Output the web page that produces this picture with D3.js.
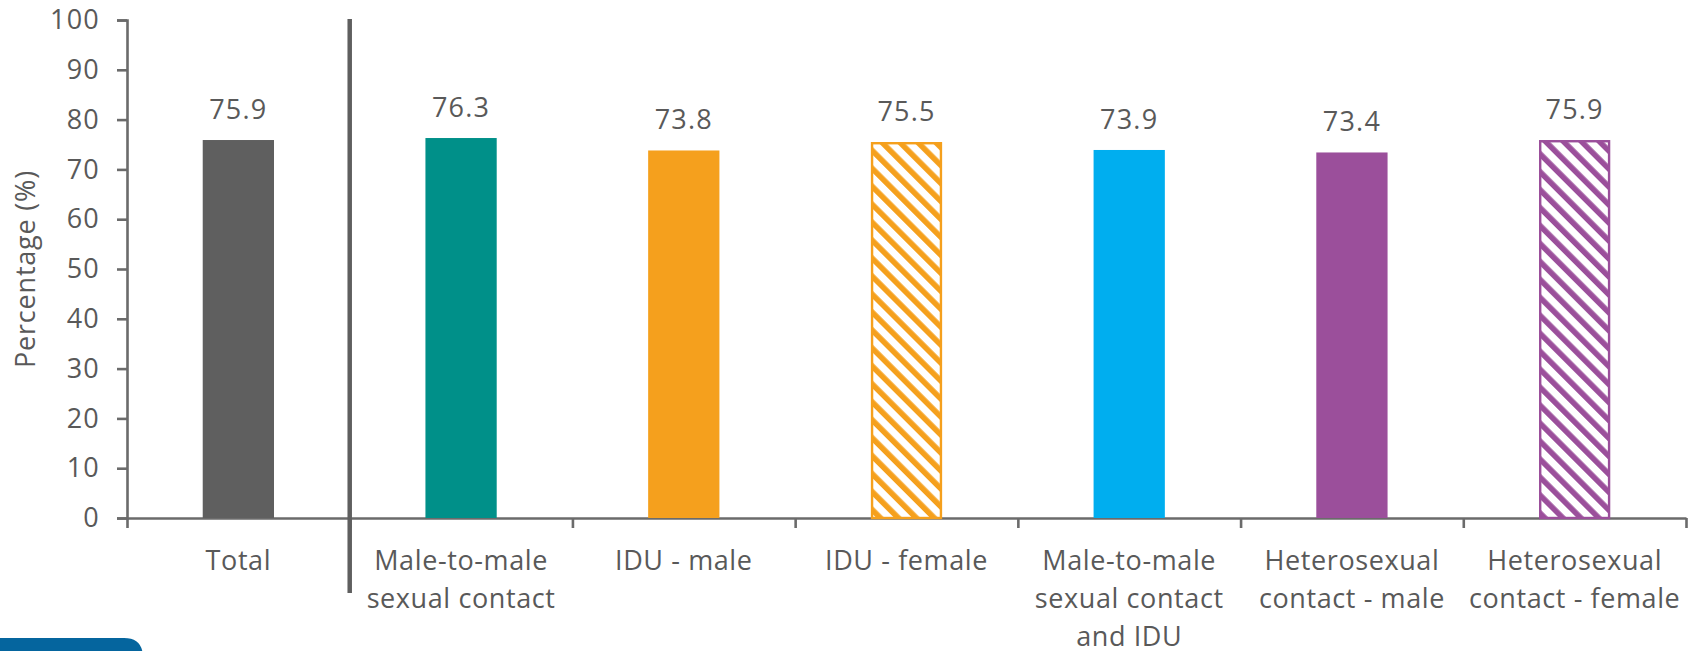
<!DOCTYPE html>
<html>
<head>
<meta charset="utf-8">
<script src="https://cdn.jsdelivr.net/npm/d3@7"></script>
<style>
  html, body { margin: 0; padding: 0; background: #fff; overflow: hidden; }
  svg { display: block; font-family: "Open Sans", sans-serif; }
</style>
</head>
<body>
<div id="canvas"></div>
<script>
// categories, split into the lines shown under each bar
const categories = ["Total", "Male-to-male sexual contact", "IDU - male", "IDU - female",
  "Male-to-male sexual contact and IDU", "Heterosexual contact - male", "Heterosexual contact - female"];
const categoryLines = [
  ["Total"],
  ["Male-to-male", "sexual contact"],
  ["IDU - male"],
  ["IDU - female"],
  ["Male-to-male", "sexual contact", "and IDU"],
  ["Heterosexual", "contact - male"],
  ["Heterosexual", "contact - female"]
];
const values = [75.9, 76.3, 73.8, 75.5, 73.9, 73.4, 75.9];
const yTicks = [0, 10, 20, 30, 40, 50, 60, 70, 80, 90, 100];

const barColors = ["#5f5f5f", "#009089", "#f5a01d", "#f5a01d", "#00aeef", "#9b4f9b", "#9b4f9b"];
const hatched = [false, false, false, true, false, false, true];

const W = 1688, H = 651;
const margin = { top: 20, right: 2, bottom: 133, left: 127 };
const height = H - margin.top - margin.bottom;
const width = W - margin.left - margin.right;

const svg = d3.select("#canvas").append("svg")
  .attr("width", W).attr("height", H);

// hatch patterns
const defs = svg.append("defs");
barColors.forEach(function (c, i) {
  if (!hatched[i]) return;
  const p = defs.append("pattern")
    .attr("id", "hatch" + i)
    .attr("patternUnits", "userSpaceOnUse")
    .attr("width", 12.7).attr("height", 12.7)
    .attr("patternTransform", "rotate(-45)");
  p.append("rect").attr("width", 12.7).attr("height", 12.7).attr("fill", "#fff");
  p.append("rect").attr("width", 5.6).attr("height", 12.7).attr("fill", c);
});

const g = svg.append("g")
  .attr("transform", "translate(" + margin.left + "," + margin.top + ")");

const x = d3.scaleBand().domain(categories).range([0, width])
  .paddingInner(0.68).paddingOuter(0.34);
const slot = d3.scaleLinear().domain([0, categories.length]).range([0, width]);
const y = d3.scaleLinear().domain([0, 100]).range([height, 0]);

const axisColor = "#6b6b6b";
const textColor = "#595959";

// y axis
const yAxis = g.append("g")
  .call(d3.axisLeft(y).tickValues(yTicks).tickSize(10).tickPadding(17).tickSizeOuter(10));
yAxis.selectAll("text").attr("font-size", 27).attr("letter-spacing", 1.2).attr("fill", textColor)
  .attr("font-family", "Open Sans");
yAxis.selectAll("line, path").attr("stroke", axisColor).attr("stroke-width", 2.6);

// x axis with ticks between categories
const xAxis = g.append("g")
  .attr("transform", "translate(0," + height + ")")
  .call(d3.axisBottom(slot).tickValues(d3.range(0, categories.length + 1))
    .tickFormat("").tickSize(10).tickSizeOuter(0));
xAxis.selectAll("line, path").attr("stroke", axisColor).attr("stroke-width", 2.6);

// bars
g.selectAll("rect.bar").data(values).enter().append("rect")
  .attr("class", "bar")
  .attr("x", function (d, i) { return x(categories[i]) + (hatched[i] ? 1.2 : 0); })
  .attr("y", function (d, i) { return y(d) + (hatched[i] ? 1.2 : 0); })
  .attr("width", function (d, i) { return x.bandwidth() - (hatched[i] ? 2.4 : 0); })
  .attr("height", function (d, i) { return height - y(d) - (hatched[i] ? 1.2 : 0); })
  .attr("fill", function (d, i) { return hatched[i] ? "url(#hatch" + i + ")" : barColors[i]; })
  .attr("stroke", function (d, i) { return hatched[i] ? barColors[i] : "none"; })
  .attr("stroke-width", 2.4);

// value labels
g.selectAll("text.val").data(values).enter().append("text")
  .attr("class", "val")
  .attr("x", function (d, i) { return x(categories[i]) + x.bandwidth() / 2; })
  .attr("y", function (d) { return y(d) - 21; })
  .attr("text-anchor", "middle")
  .attr("font-size", 27)
  .attr("letter-spacing", 1.2)
  .attr("fill", textColor)
  .text(function (d) { return d.toFixed(1); });

// category labels
const lbl = g.selectAll("text.cat").data(categoryLines).enter().append("text")
  .attr("class", "cat")
  .attr("text-anchor", "middle")
  .attr("font-size", 27)
  .attr("letter-spacing", 0.6)
  .attr("fill", textColor)
  .attr("transform", function (d, i) {
    return "translate(" + (x(categories[i]) + x.bandwidth() / 2) + "," + (height + 52) + ")";
  });
lbl.selectAll("tspan").data(function (d) { return d; }).enter().append("tspan")
  .attr("x", 0)
  .attr("y", function (d, j) { return j * 38; })
  .text(function (d) { return d; });

// separator between Total and the groups
g.append("line")
  .attr("x1", slot(1)).attr("x2", slot(1))
  .attr("y1", -1).attr("y2", height + 75)
  .attr("stroke", "#5f5f5f").attr("stroke-width", 4.5);

// y axis title
svg.append("text")
  .attr("transform", "translate(24," + (margin.top + y(50)) + ") rotate(-90)")
  .attr("text-anchor", "middle")
  .attr("dominant-baseline", "central")
  .attr("font-size", 27)
  .attr("letter-spacing", 0.8)
  .attr("fill", textColor)
  .text("Percentage (%)");

// blue tab in the bottom-left corner
svg.append("path")
  .attr("d", "M0,638 H124 Q143,638 143,658 V670 H0 Z")
  .attr("fill", "#05659e");
</script>
</body>
</html>
